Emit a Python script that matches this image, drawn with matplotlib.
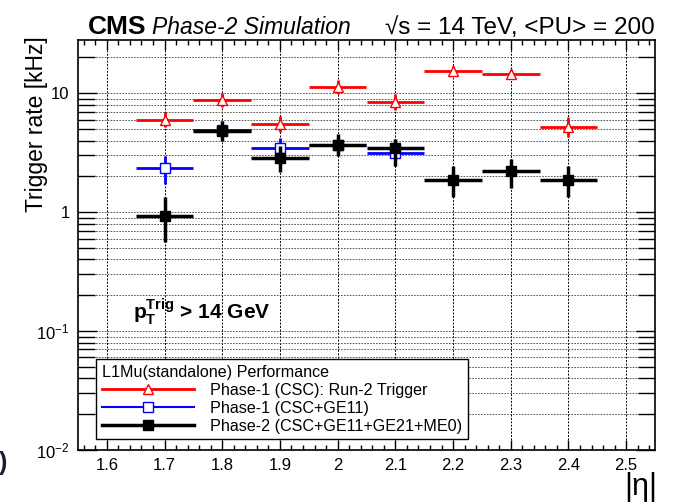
import numpy as np
import matplotlib
matplotlib.use("Agg")
import matplotlib.pyplot as plt
from matplotlib.lines import Line2D
from matplotlib.ticker import FixedLocator, MultipleLocator, FuncFormatter, LogLocator, NullFormatter

plt.rcParams['font.family'] = ['Liberation Sans', 'DejaVu Sans']
plt.rcParams['mathtext.fontset'] = 'custom'
plt.rcParams['mathtext.rm'] = 'Liberation Sans'
plt.rcParams['mathtext.it'] = 'Liberation Sans:italic'
plt.rcParams['mathtext.bf'] = 'Liberation Sans:bold'

# ---- data ----
eta = [1.7, 1.8, 1.9, 2.0, 2.1, 2.2, 2.3, 2.4]

# Phase-1 (CSC): Run-2 trigger
rate_csc = [6.0, 8.7, 5.5, 11.3, 8.45, 15.3, 14.4, 5.15]
err_csc_lo = [0.85, 1.1, 0.8, 1.4, 1.2, 1.3, 1.3, 0.9]
err_csc_hi = [1.0, 1.3, 0.95, 1.6, 1.4, 1.5, 1.5, 1.1]

# Phase-1 (CSC+GE11)
eta_ge11 = [1.7, 1.8, 1.9, 2.0, 2.1]
rate_ge11 = [2.34, 4.95, 3.43, 3.7, 3.13]
err_ge11_lo = [0.6, 0.8, 0.6, 0.6, 0.7]
err_ge11_hi = [0.65, 0.9, 0.75, 0.7, 0.6]

# Phase-2 (CSC+GE11+GE21+ME0)
rate_ph2 = [0.93, 4.85, 2.83, 3.7, 3.43, 1.88, 2.2, 1.88]
err_ph2_lo = [0.37, 0.87, 0.66, 0.73, 0.98, 0.55, 0.59, 0.55]
err_ph2_hi = [0.41, 1.0, 0.77, 0.82, 0.67, 0.54, 0.59, 0.54]

bin_half = 0.05

fig = plt.figure(figsize=(6.75, 5.04), dpi=100)
ax = fig.add_axes([78/675, 1 - 450/504, 577/675, 410/504])

ax.errorbar(eta, rate_csc, xerr=bin_half, yerr=[err_csc_lo, err_csc_hi],
            fmt='^', color='red', mfc='white', mec='red', ms=7, mew=1.0,
            elinewidth=2.0, capsize=0, zorder=3)
ax.errorbar(eta_ge11, rate_ge11, xerr=bin_half, yerr=[err_ge11_lo, err_ge11_hi],
            fmt='s', color='blue', mfc='white', mec='blue', ms=6.5, mew=1.0,
            elinewidth=2.0, capsize=0, zorder=4)
ax.errorbar(eta, rate_ph2, xerr=bin_half, yerr=[err_ph2_lo, err_ph2_hi],
            fmt='s', color='black', mfc='black', mec='black', ms=7, mew=1.0,
            elinewidth=2.5, capsize=0, zorder=5)

ax.set_yscale('log')
ax.set_xlim(1.55, 2.55)
ax.set_ylim(0.01, 28)

ax.xaxis.set_major_locator(MultipleLocator(0.1))
ax.xaxis.set_minor_locator(MultipleLocator(0.02))
ax.xaxis.set_major_formatter(FuncFormatter(lambda v, p: '%g' % round(v, 2)))

ylabels = {0.01: r'$\mathregular{10^{-2}}$', 0.1: r'$\mathregular{10^{-1}}$', 1: '1', 10: '10'}
ax.yaxis.set_major_locator(FixedLocator([0.01, 0.1, 1, 10]))
ax.yaxis.set_major_formatter(FuncFormatter(lambda v, p: ylabels.get(round(v, 2), '')))
ax.yaxis.set_minor_locator(LogLocator(base=10, subs=np.arange(2, 10), numticks=20))
ax.yaxis.set_minor_formatter(NullFormatter())

ax.tick_params(axis='both', which='both', direction='in', top=True, right=True, labelsize=12, colors='black')
ax.tick_params(axis='x', which='major', length=7, width=1.0, pad=6)
ax.tick_params(axis='x', which='minor', length=3.5, width=1.0)
ax.tick_params(axis='y', which='major', length=14, width=1.0, pad=6)
ax.tick_params(axis='y', which='minor', length=12, width=1.0)
for s in ax.spines.values():
    s.set_linewidth(1.2)

ax.set_axisbelow(True)
ax.grid(True, which='major', axis='x', color='black', linestyle=(0, (2, 1.5)), linewidth=0.7)
ax.grid(True, which='both', axis='y', color='0.25', linestyle=(0, (2, 1.5)), linewidth=0.6)

# legend
handles = [
    Line2D([], [], color='red', lw=2.0, marker='^', mfc='white', mec='red', ms=7),
    Line2D([], [], color='blue', lw=1.5, marker='s', mfc='white', mec='blue', ms=6.5),
    Line2D([], [], color='black', lw=2.5, marker='s', mfc='black', mec='black', ms=7),
]
labels = ['Phase-1 (CSC): Run-2 Trigger', 'Phase-1 (CSC+GE11)', 'Phase-2 (CSC+GE11+GE21+ME0)']
leg = ax.legend(handles, labels, title='L1Mu(standalone) Performance', loc='lower left',
                bbox_to_anchor=(0.032, 0.026), fontsize=11.6, title_fontsize=11.6,
                handlelength=5.7, handletextpad=1.0, labelspacing=0.18, borderpad=0.35,
                borderaxespad=0, numpoints=1, frameon=True, fancybox=False,
                edgecolor='black', framealpha=1, alignment='left')
leg.get_frame().set_linewidth(1.0)
leg.set_zorder(10)

ax.text((133 - 78) / 577, (450 - 312) / 410,
        r'$\mathbf{p_{T}^{Trig}}$ > 14 GeV', transform=ax.transAxes,
        fontsize=15, fontweight='bold', ha='left', va='center')

# header
fig.text(88/675, 1 - 34/504, 'CMS', fontsize=19, fontweight='bold', ha='left', va='baseline')
fig.text(152/675, 1 - 34/504, 'Phase-2 Simulation', fontsize=16.5, style='italic', ha='left', va='baseline')
fig.text(655/675, 1 - 34/504, '\u221as = 14 TeV, <PU> = 200', fontsize=17.5, ha='right', va='baseline')

fig.text(37/675, 1 - 36/504, 'Trigger rate [kHz]', fontsize=16.5, rotation=90, ha='center', va='top')
fig.text(657/675, 1 - 487/504, '|\u03b7|', fontsize=22, ha='right', va='center')
# cut-off glyph at the left edge of the reference
fig.text(7/675, 1 - 463/504, ')', fontsize=18, fontweight='bold', color='#1a1a40', ha='right', va='center')

fig.savefig('out.png', dpi=100)
